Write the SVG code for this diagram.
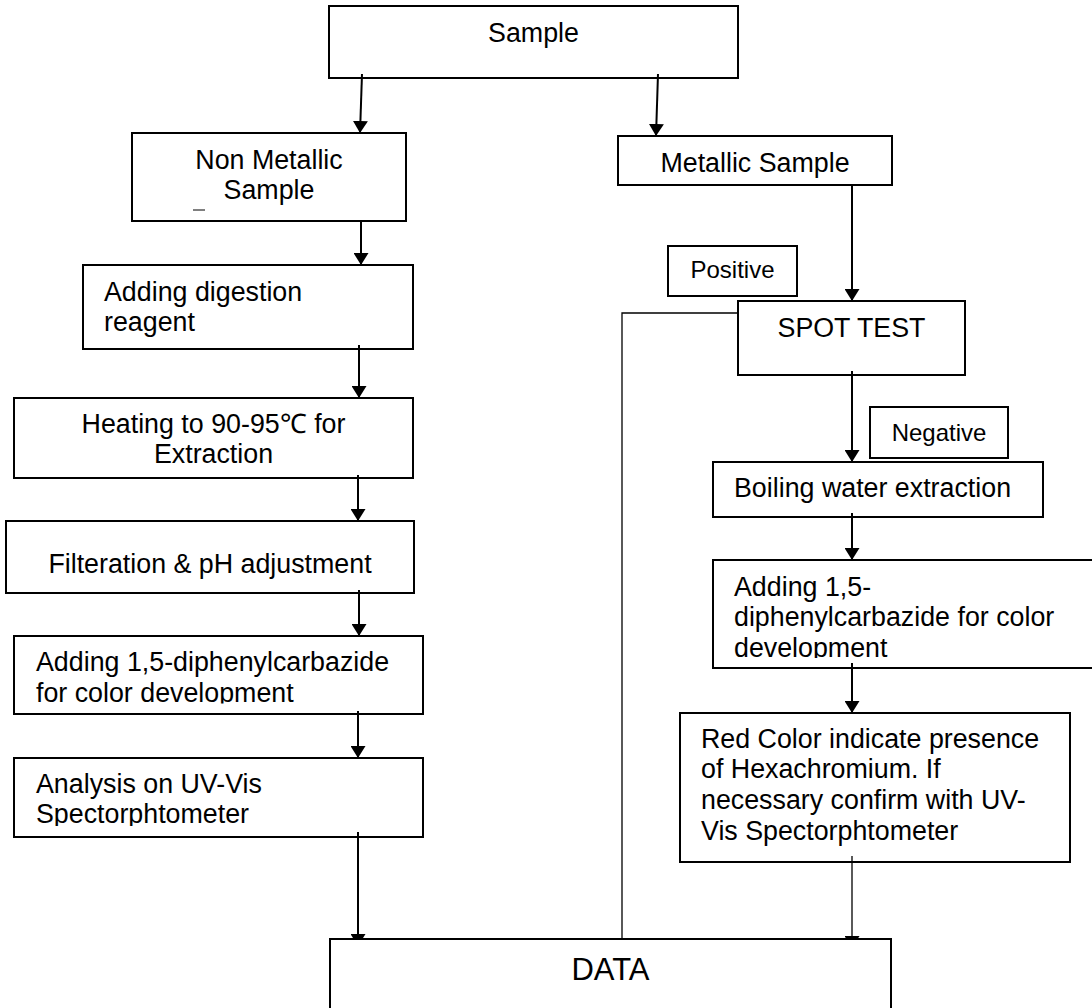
<svg xmlns="http://www.w3.org/2000/svg" width="1092" height="1008" viewBox="0 0 1092 1008">
<style>
.box{fill:#fff;stroke:#000;stroke-width:2}
.t{font-family:"Liberation Sans",Arial,sans-serif;font-size:26.8px;fill:#000}
.c{text-anchor:middle}
.s{font-size:24px}
.conn{fill:none;stroke:#000;stroke-width:2}
.thin{stroke-width:1.3}
</style>
<defs>
<marker id="ah" markerUnits="userSpaceOnUse" viewBox="0 0 12 15" refX="12" refY="7.5" markerWidth="12" markerHeight="15" orient="auto">
<path d="M0,0 L12,7.5 L0,15 z" fill="#000"/>
</marker>
<clipPath id="clipL"><rect x="14" y="636" width="409" height="67.5"/></clipPath>
<clipPath id="clipA"><rect x="14" y="758" width="409" height="68"/></clipPath>
<clipPath id="clipR"><rect x="713" y="560" width="379" height="98"/></clipPath>
</defs>
<rect width="1092" height="1008" fill="#fff"/>

<g id="sample">
<rect class="box" x="329" y="6" width="409" height="72"/>
<text class="t c" x="533.5" y="42">Sample</text>
</g>
<g id="non-metallic">
<rect class="box" x="132" y="133" width="274" height="88"/>
<text class="t c" x="269" y="169">Non Metallic</text>
<text class="t c" x="269" y="199">Sample</text>
<line x1="193" y1="210" x2="205" y2="210" stroke="#000" stroke-width="1"/>
</g>
<g id="digestion">
<rect class="box" x="83" y="265" width="330" height="84"/>
<text class="t" x="104" y="301">Adding digestion</text>
<text class="t" x="104" y="331">reagent</text>
</g>
<g id="heating">
<rect class="box" x="14" y="398" width="399" height="80"/>
<text class="t c" x="213.5" y="433">Heating to 90-95℃ for</text>
<text class="t c" x="213.5" y="463">Extraction</text>
</g>
<g id="filteration">
<rect class="box" x="6" y="521" width="408" height="72"/>
<text class="t c" x="210" y="573">Filteration &amp; pH adjustment</text>
</g>
<g id="dpc-left">
<rect class="box" x="14" y="636" width="409" height="78"/>
<g clip-path="url(#clipL)">
<text class="t" x="36" y="671">Adding 1,5-diphenylcarbazide</text>
<text class="t" x="36" y="702">for color development</text>
</g>
</g>
<g id="analysis">
<rect class="box" x="14" y="758" width="409" height="79"/>
<g clip-path="url(#clipA)">
<text class="t" x="36" y="793">Analysis on UV-Vis</text>
<text class="t" x="36" y="823">Spectorphtometer</text>
</g>
</g>
<g id="metallic">
<rect class="box" x="618" y="136" width="274" height="49"/>
<text class="t c" x="755" y="172">Metallic Sample</text>
</g>
<g id="positive">
<rect class="box" x="668" y="246" width="129" height="50"/>
<text class="t s c" x="732.5" y="278">Positive</text>
</g>
<g id="spot-test">
<rect class="box" x="738" y="301" width="227" height="74"/>
<text class="t c" x="851.5" y="337">SPOT TEST</text>
</g>
<g id="negative">
<rect class="box" x="870" y="407" width="138" height="51"/>
<text class="t s c" x="939" y="441">Negative</text>
</g>
<g id="boiling">
<rect class="box" x="713" y="462" width="330" height="55"/>
<text class="t" x="734" y="497">Boiling water extraction</text>
</g>
<g id="dpc-right">
<rect class="box" x="713" y="560" width="390" height="108"/>
<g clip-path="url(#clipR)">
<text class="t" x="734" y="596">Adding 1,5-</text>
<text class="t" x="734" y="626">diphenylcarbazide for color</text>
<text class="t" x="734" y="657">development</text>
</g>
</g>
<g id="red-color">
<rect class="box" x="680" y="713" width="390" height="149"/>
<text class="t" x="701" y="748">Red Color indicate presence</text>
<text class="t" x="701" y="778">of Hexachromium. If</text>
<text class="t" x="701" y="809">necessary confirm with UV-</text>
<text class="t" x="701" y="840">Vis Spectorphtometer</text>
</g>

<g id="connectors">
<line class="conn" x1="362" y1="74" x2="360" y2="133" marker-end="url(#ah)"/>
<line class="conn" x1="361" y1="221" x2="361" y2="265" marker-end="url(#ah)"/>
<line class="conn" x1="359" y1="345" x2="359" y2="398" marker-end="url(#ah)"/>
<line class="conn" x1="358" y1="475" x2="358" y2="521" marker-end="url(#ah)"/>
<line class="conn" x1="359" y1="590" x2="359" y2="636" marker-end="url(#ah)"/>
<line class="conn" x1="358" y1="711" x2="358" y2="758" marker-end="url(#ah)"/>
<line class="conn" x1="358" y1="832" x2="358" y2="946" marker-end="url(#ah)"/>
<line class="conn" x1="658" y1="74" x2="656" y2="136" marker-end="url(#ah)"/>
<line class="conn" x1="852" y1="185" x2="852" y2="301" marker-end="url(#ah)"/>
<line class="conn" x1="852" y1="371" x2="852" y2="462" marker-end="url(#ah)"/>
<line class="conn" x1="852" y1="513" x2="852" y2="560" marker-end="url(#ah)"/>
<line class="conn" x1="852" y1="663" x2="852" y2="713" marker-end="url(#ah)"/>
<line class="conn thin" x1="852" y1="856" x2="852" y2="948" marker-end="url(#ah)"/>
<polyline class="conn thin" points="738,313 622,313 622,940"/>
</g>

<g id="data">
<rect class="box" x="330" y="939" width="561" height="90"/>
<text class="t c" x="610.5" y="980" style="font-size:31px">DATA</text>
</g>
</svg>
